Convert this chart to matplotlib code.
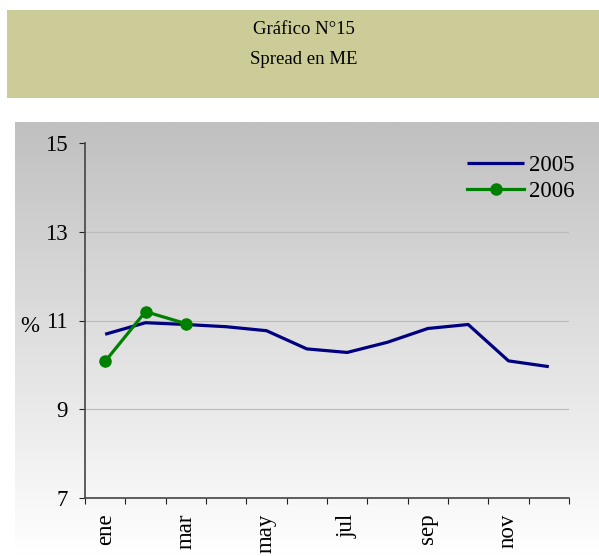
import matplotlib
matplotlib.use("Agg")
import matplotlib.pyplot as plt
import numpy as np
from matplotlib.patches import Rectangle
from matplotlib.colors import LinearSegmentedColormap

months = ["ene", "feb", "mar", "abr", "may", "jun", "jul", "ago", "sep", "oct", "nov", "dic"]
s2005 = [10.69, 10.95, 10.91, 10.86, 10.77, 10.36, 10.28, 10.51, 10.82, 10.91, 10.09, 9.96]
s2006 = [10.08, 11.20, 10.93]
yticks = [7, 9, 11, 13, 15]
title1 = "Gráfico N°15"
title2 = "Spread en ME"

plt.rcParams['font.family'] = ['Liberation Serif', 'DejaVu Serif']

W, H = 599, 556
fig = plt.figure(figsize=(W/100, H/100), dpi=100)
fig.patch.set_facecolor("white")

# title box
fig.patches.append(Rectangle((7/W, 1-98/H), (W-7)/W, 88/H, transform=fig.transFigure,
                             facecolor="#CCCC99", edgecolor="none", zorder=0))
fig.text(304/W, 1-30/H, title1, ha="center", va="center", fontsize=13.5)
fig.text(304/W, 1-59/H, title2, ha="center", va="center", fontsize=13.5)

# gradient background (gray at top, white at bottom)
bg = fig.add_axes([15/W, 0, (W-15)/W, 1-122/H], zorder=0)
grad = np.linspace(0, 1, 256).reshape(-1, 1)
cmap = LinearSegmentedColormap.from_list("g", ["#FFFFFF", "#C0C0C0"])
bg.imshow(grad, aspect="auto", cmap=cmap, extent=[0, 1, 0, 1], origin="lower", vmin=0, vmax=1)
bg.axis("off")

ax = fig.add_axes([85/W, 1-498/H, (569-85)/W, (498-143)/H], zorder=1)
ax.patch.set_alpha(0)
x = np.arange(len(months))
ax.plot(x, s2005, color="#000080", lw=2.3, label="2005", solid_capstyle="butt")
ax.plot(x[:len(s2006)], s2006, color="#008000", lw=2.3, marker="o", ms=8, label="2006")

ax.set_ylim(7, 15)
ax.set_yticks(yticks)
ax.set_yticklabels([str(v) for v in yticks], fontsize=16.5)
ax.set_xlim(-0.5, 11.5)
ax.set_xticks(np.arange(-0.5, 12, 1))
ax.set_xticklabels([])
ax.set_xticks(x[::2], minor=True)
ax.set_xticklabels(months[::2], minor=True, rotation=90, fontsize=16.5)
ax.tick_params(axis="x", which="minor", length=0, pad=11)
ax.tick_params(axis="x", which="major", length=4.5, direction="out", color="#222222")
ax.tick_params(axis="y", length=4.5, direction="out", color="#222222", pad=8)
for v in [9, 11, 13]:
    ax.axhline(v, color="#BBBBBB", lw=0.8, zorder=0)
for s in ["top", "right"]:
    ax.spines[s].set_visible(False)
for s in ["left", "bottom"]:
    ax.spines[s].set_color("#444444")
    ax.spines[s].set_linewidth(1.2)

fig.text(30/W, 1-327/H, "%", ha="center", va="center", fontsize=16.5)

leg = ax.legend(loc="upper left", bbox_to_anchor=(467/W, 1-155/H), bbox_transform=fig.transFigure,
                frameon=False, fontsize=16.5, borderpad=0, borderaxespad=0,
                handlelength=2.5, handletextpad=0.2, labelspacing=0.2)

fig.savefig("out.png", dpi=100)
